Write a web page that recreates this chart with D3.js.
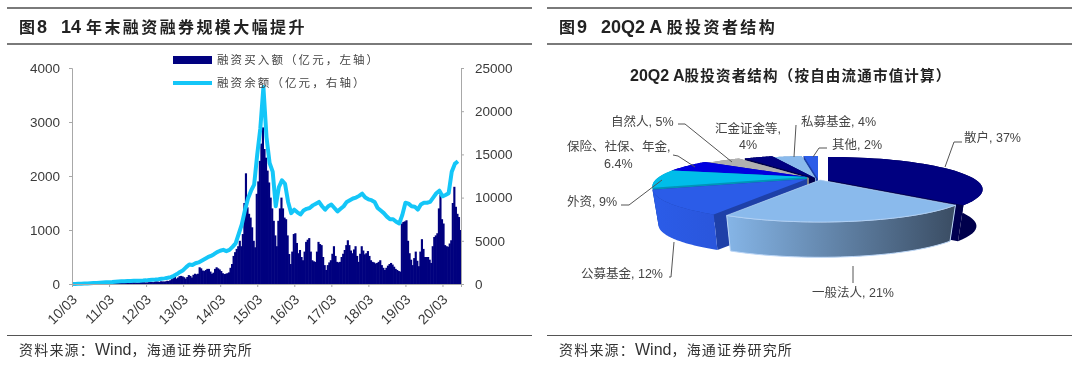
<!DOCTYPE html>
<html>
<head>
<meta charset="utf-8">
<script src="https://cdnjs.cloudflare.com/ajax/libs/d3/7.8.5/d3.min.js"></script>
<style>
  html, body { margin: 0; padding: 0; background: #fff; }
  text { font-family: "Liberation Sans", "Noto Sans CJK SC", sans-serif; }
  #chart { display: block; filter: blur(0.4px); }
</style>
</head>
<body>
<svg id="chart" width="1080" height="368"></svg>
<script>
// left chart: balance per month from 10/03, buying per half month
const xTickLabels = ["10/03", "11/03", "12/03", "13/03", "14/03", "15/03", "16/03", "17/03", "18/03", "19/03", "20/03"];
const leftTicks = [0, 1000, 2000, 3000, 4000];
const rightTicks = [0, 5000, 10000, 15000, 20000, 25000];

const balance = [
    0, 10, 20, 35, 50, 70, 90, 110, 130, 150, 170, 190,
    210, 230, 260, 290, 310, 330, 350, 360, 370, 380, 390, 400,
    420, 450, 480, 510, 550, 600, 650, 720, 800, 950, 1150, 1400,
    1600, 1950, 2250, 2200, 2400, 2500, 2700, 2900, 3100, 3250, 3450, 3700,
    3850, 3950, 3800, 3950, 4300, 4700, 5800, 6900, 8500, 9900, 10800, 11500,
    15000, 18000, 22800, 17000, 14000, 13000, 9000, 11200, 12000, 11600, 9500, 8200,
    8600, 8300, 8050, 8500, 8700, 8800, 9100, 9300, 9500, 9000, 8600, 9000,
    9200, 8800, 8400, 8700, 9000, 9500, 9700, 9900, 10000, 10200, 10450, 10000,
    9800, 9700, 9500, 8800, 8500, 8200, 7800, 7500, 7500, 7200, 7000, 8000,
    9400, 9300, 9000, 8950, 8600, 9200, 9400, 9400, 9500, 10000, 10500, 10800,
    10150, 10300, 10500, 13000, 13900, 14200
];

const buying = [
    0, 2, 3, 4, 5, 5, 6, 8, 6, 5, 5, 6, 7, 8, 8, 7, 6, 6, 7, 8,
    10, 12, 15, 14, 16, 18, 20, 22, 25, 22, 20, 25, 28, 24, 26, 30, 28, 25, 30, 32,
    30, 28, 25, 30, 35, 40, 35, 30, 28, 35, 40, 38, 35, 45, 50, 45, 40, 50, 48, 45,
    50, 60, 55, 70, 90, 110, 130, 100, 120, 145, 150, 140, 125, 100, 130, 165, 150, 120, 170, 190,
    180, 190, 310, 290, 250, 240, 260, 280, 280, 230, 190, 210, 280, 310, 290, 270, 240, 200, 185, 190,
    200, 215, 300, 370, 520, 590, 650, 700, 800, 700, 925, 1500, 2050, 1420, 1300, 1230, 1050, 800, 680, 1670,
    1900, 2280, 2600, 2900, 2500, 2340, 2100, 1880, 1600, 1400, 1170, 900, 700, 1170, 1400, 1600, 1400, 1230, 1200, 900,
    555, 370, 600, 925, 940, 760, 570, 630, 500, 440, 600, 780, 820, 850, 600, 440, 420, 410, 600, 780,
    740, 720, 500, 350, 260, 350, 400, 440, 560, 700, 520, 410, 400, 410, 500, 560, 630, 720, 810, 720,
    620, 570, 640, 700, 520, 410, 560, 700, 620, 550, 570, 610, 520, 440, 410, 400, 380, 390, 410, 440,
    350, 300, 260, 300, 340, 370, 390, 360, 320, 280, 260, 240, 230, 1120, 1150, 1160, 1180, 800, 570, 450,
    350, 480, 600, 430, 330, 600, 830, 650, 500, 500, 500, 450, 390, 700, 870, 900, 940, 1400, 1650, 1200,
    1120, 720, 700, 690, 750, 810, 1500, 1800, 1430, 1300, 1240, 1000
];

// right chart
const pieNames = ["散户", "一般法人", "公募基金", "外资", "保险、社保、年金", "自然人", "汇金证金等", "私募基金", "其他"];
const pieValues = [37, 21, 12, 9, 6.4, 5, 4, 4, 2];

const svg = d3.select("#chart");
const textColor = "#3a3a3a";

// latin runs are set bigger and tight, cjk runs smaller and spaced out
function mixedText(el, parts, latinSize, cjkSize, spacing) {
    parts.forEach(p => {
        const isLatin = /^[\x00-\x7f]*$/.test(p);
        el.append("tspan")
            .attr("font-size", isLatin ? latinSize : cjkSize)
            .attr("letter-spacing", isLatin ? 0 : spacing)
            .text(p);
    });
}

// page furniture
function panelFrame(x0, x1, num, title) {
    svg.append("rect").attr("x", x0).attr("y", 7).attr("width", x1 - x0).attr("height", 2).attr("fill", "#7a7a7a");
    svg.append("rect").attr("x", x0).attr("y", 43).attr("width", x1 - x0).attr("height", 2).attr("fill", "#7a7a7a");
    svg.append("rect").attr("x", x0).attr("y", 335).attr("width", x1 - x0).attr("height", 1).attr("fill", "#555");
    const head = svg.append("text").attr("x", x0 + 12).attr("y", 33).attr("font-weight", "bold").attr("fill", "#222");
    mixedText(head, num, 18, 16, 2);
    const sub = svg.append("text").attr("x", x0 + 54).attr("y", 33).attr("font-weight", "bold").attr("fill", "#222")
        .attr("xml:space", "preserve").style("white-space", "pre");
    mixedText(sub, title, 18, 16, 2.4);
    const src = svg.append("text").attr("x", x0 + 12).attr("y", 355).attr("fill", "#333");
    mixedText(src, ["资料来源：", "Wind", "，海通证券研究所"], 16, 14, 1.2);
}
panelFrame(7, 532, ["图", "8"], ["14 ", "年末融资融券规模大幅提升"]);
panelFrame(547, 1072, ["图", "9"], ["20Q2 A ", "股投资者结构"]);

// ---- left chart ----
const x = d3.scaleLinear().domain([0, 126]).range([72, 461]);
const yLeft = d3.scaleLinear().domain([0, 4000]).range([284, 68]);
const yRight = d3.scaleLinear().domain([0, 25000]).range([284, 68]);

const barW = x(0.5) - x(0) + 0.6;
svg.append("g").selectAll("rect")
    .data(buying)
    .enter()
    .append("rect")
    .attr("x", (d, i) => x(i / 2))
    .attr("y", d => yLeft(d))
    .attr("width", barW)
    .attr("height", d => yLeft(0) - yLeft(d))
    .attr("fill", "#00007f");

const line = d3.line()
    .x((d, i) => x(i))
    .y(d => yRight(d))
    .curve(d3.curveLinear);

svg.append("path")
    .datum(balance)
    .attr("d", line)
    .attr("fill", "none")
    .attr("stroke", "#14c6f8")
    .attr("stroke-width", 4)
    .attr("stroke-linejoin", "round");

function styleAxis(g) {
    g.selectAll("path, line").attr("stroke", "#a8a8a8");
    g.selectAll("text").attr("font-size", 13.5).attr("fill", textColor)
        .attr("font-family", "Liberation Sans");
}

svg.append("g")
    .attr("transform", "translate(72,0)")
    .call(d3.axisLeft(yLeft).tickValues(leftTicks).tickSize(3).tickPadding(9).tickFormat(d3.format("d")))
    .call(styleAxis);

svg.append("g")
    .attr("transform", "translate(461,0)")
    .call(d3.axisRight(yRight).tickValues(rightTicks).tickSize(3).tickPadding(11).tickFormat(d3.format("d")))
    .call(styleAxis);

svg.append("g")
    .attr("transform", "translate(0,284)")
    .call(d3.axisBottom(x)
        .tickValues(xTickLabels.map((d, i) => i * 12))
        .tickSize(3)
        .tickFormat((d, i) => xTickLabels[i]))
    .call(styleAxis)
    .selectAll("text")
    .attr("font-size", 14)
    .attr("text-anchor", "end")
    .attr("x", 0)
    .attr("y", 0)
    .attr("dy", "0.35em")
    .attr("transform", "translate(2,13) rotate(-45)");

// legend
svg.append("rect").attr("x", 173).attr("y", 56).attr("width", 39).attr("height", 8).attr("fill", "#00007f");
svg.append("line").attr("x1", 173).attr("x2", 212).attr("y1", 83).attr("y2", 83)
    .attr("stroke", "#14c6f8").attr("stroke-width", 4);
[["融资买入额（亿元，左轴）", 64], ["融资余额（亿元，右轴）", 87]].forEach(d => {
    svg.append("text").attr("x", 217).attr("y", d[1])
        .attr("font-size", 11.5).attr("letter-spacing", 2.1).attr("fill", "#444").text(d[0]);
});

// ---- right chart ----
const pieTitle = svg.append("text").attr("x", 630).attr("y", 81).attr("font-weight", "bold").attr("fill", "#222");
mixedText(pieTitle, ["20Q2 A", "股投资者结构（按自由流通市值计算）"], 16, 14.5, 1.2);

// perspective pie
const pieCx = 812, pieCy = 178;
const pieR = 148, pieH = 29.8, persp = 0.29, depth = 37, lowerScale = 0.96;
// how far each slice is pulled out, on screen
const explodeX = [16, 8, -5, -5, -5, -3, 3, 4, 6];
const explodeY = [2, 2, 1, -1, -1, 0, 0, 1, 1];
const topColors = ["#000080", "#8abaec", "#2b5ce8", "#00bdea", "#0000e0", "#b0b0b0", "#000080", "#8abaec", "#2b5ce8"];
const wallColors = ["#00004c", "url(#wall1)", "url(#wall2)", "#0095b8", "#0000a8", "#808080", "#00004c", "#6f9ccc", "#1d40a8"];
const faceColors = ["#000050", "#6f9ccc", "#1e40a8", "#0095b8", "#0000a8", "#808080", "#00004c", "#6f9ccc", "#1d40a8"];
const drawOrder = [8, 7, 6, 5, 4, 3, 0, 2, 1];

const defs = svg.append("defs");
function addGradient(id, x1, x2, c1, c2) {
    const g = defs.append("linearGradient").attr("id", id).attr("gradientUnits", "userSpaceOnUse")
        .attr("x1", x1).attr("x2", x2).attr("y1", 0).attr("y2", 0);
    g.append("stop").attr("offset", "0%").attr("stop-color", c1);
    g.append("stop").attr("offset", "100%").attr("stop-color", c2);
}
addGradient("wall1", 725, 950, "#86b6e8", "#3c4f66");
addGradient("wall2", 655, 715, "#2b5ce8", "#2a56dc");

const slices = d3.pie().sort(null)(pieValues);
const pt = d3.line();

function project(a, i, lower) {
    const u = Math.sin(a), v = Math.cos(a), s = 1 / (1 + persp * v), k = lower ? lowerScale : 1;
    return [
        pieCx + explodeX[i] + pieR * k * u * s,
        pieCy + explodeY[i] - pieH * k * v * s + (lower ? depth : 0)
    ];
}
function arcPoints(d, i, lower) {
    return d3.range(0, 41).map(n => project(d.startAngle + (d.endAngle - d.startAngle) * n / 40, i, lower));
}

const pieG = svg.append("g");
drawOrder.forEach(i => {
    const d = slices[i];
    const apex = [pieCx + explodeX[i], pieCy + explodeY[i]];
    const apexLow = [apex[0], apex[1] + depth];
    const edge = i === 1 ? "#bcd6f6" : "none";
    // the two cut faces
    [d.startAngle, d.endAngle].forEach(a => {
        pieG.append("path")
            .attr("d", pt([apex, project(a, i, false), project(a, i, true), apexLow]) + "Z")
            .attr("fill", faceColors[i]);
    });
    // outer wall
    const top = arcPoints(d, i, false), low = arcPoints(d, i, true).reverse();
    pieG.append("path")
        .attr("d", pt(top.concat(low)) + "Z")
        .attr("fill", wallColors[i])
        .attr("stroke", edge)
        .attr("stroke-width", 1);
    // top face
    pieG.append("path")
        .attr("d", pt([apex].concat(top)) + "Z")
        .attr("fill", topColors[i])
        .attr("stroke", edge)
        .attr("stroke-width", 0.6);
});

// leader lines and labels
const leaders = [
    [[962, 142], [954, 142], [945, 167]],
    [[853, 266], [853, 283]],
    [[669, 277], [671, 277], [674, 242]],
    [[621, 205], [629, 205], [662, 180]],
    [[673, 155], [678, 156], [695, 167]],
    [[678, 124], [685, 124], [732, 162]],
    [[796, 125], [794, 157]],
    [[827, 148], [819, 148], [813, 157]]
];
svg.append("g").selectAll("path")
    .data(leaders)
    .enter()
    .append("path")
    .attr("d", d => pt(d))
    .attr("fill", "none")
    .attr("stroke", "#555")
    .attr("stroke-width", 1);

const labels = [
    [pieNames[0] + ", " + pieValues[0] + "%", 964, 142],
    [pieNames[1] + ", " + pieValues[1] + "%", 812, 297],
    [pieNames[2] + ", " + pieValues[2] + "%", 581, 278],
    [pieNames[3] + ", " + pieValues[3] + "%", 567, 206],
    [pieNames[4] + ",", 567, 151],
    [pieValues[4] + "%", 604, 168],
    [pieNames[5] + ", " + pieValues[5] + "%", 611, 126],
    [pieNames[6] + ",", 715, 133],
    [pieValues[6] + "%", 739, 149],
    [pieNames[7] + ", " + pieValues[7] + "%", 801, 126],
    [pieNames[8] + ", " + pieValues[8] + "%", 832, 149]
];
svg.append("g").selectAll("text")
    .data(labels)
    .enter()
    .append("text")
    .attr("x", d => d[1])
    .attr("y", d => d[2])
    .attr("font-size", 12.5)
    .attr("fill", "#444")
    .text(d => d[0]);
</script>
</body>
</html>
